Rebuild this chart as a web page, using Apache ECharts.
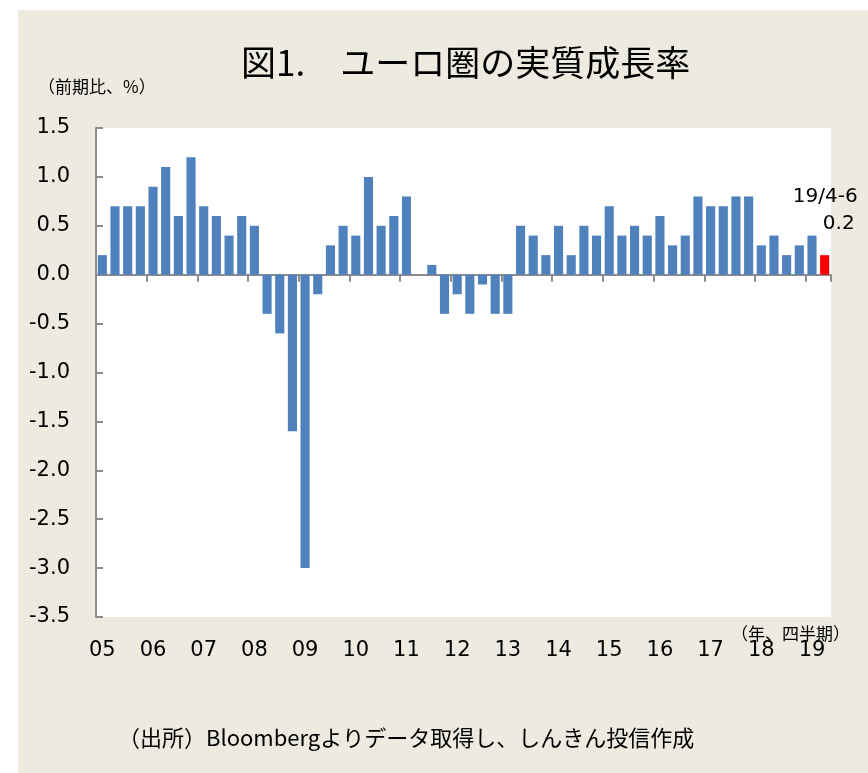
<!DOCTYPE html>
<html>
<head>
<meta charset="utf-8">
<script src="https://cdn.jsdelivr.net/npm/echarts@6/dist/echarts.min.js"></script>
<style>
  html, body { margin: 0; padding: 0; background: #fff; }
  #chart { position: absolute; left: 0; top: 0; width: 868px; height: 773px; }
  #panel { position: absolute; left: 18px; top: 10px; width: 850px; height: 763px; background: #edeae0; }
</style>
</head>
<body>
<div id="panel"></div>
<div id="chart"></div>
<script>
// 四半期 (05/1-3 〜 19/4-6)
var years = ["05", "06", "07", "08", "09", "10", "11", "12", "13", "14", "15", "16", "17", "18", "19"];
var growth = [
  0.2, 0.7, 0.7, 0.7,    // 05
  0.9, 1.1, 0.6, 1.2,    // 06
  0.7, 0.6, 0.4, 0.6,    // 07
  0.5, -0.4, -0.6, -1.6, // 08
  -3.0, -0.2, 0.3, 0.5,  // 09
  0.4, 1.0, 0.5, 0.6,    // 10
  0.8, 0.0, 0.1, -0.4,   // 11
  -0.2, -0.4, -0.1, -0.4,// 12
  -0.4, 0.5, 0.4, 0.2,   // 13
  0.5, 0.2, 0.5, 0.4,    // 14
  0.7, 0.4, 0.5, 0.4,    // 15
  0.6, 0.3, 0.4, 0.8,    // 16
  0.7, 0.7, 0.8, 0.8,    // 17
  0.3, 0.4, 0.2, 0.3,    // 18
  0.4, 0.2               // 19
];
var yTicks = { min: -3.5, max: 1.5, step: 0.5 };

var quarters = [];
growth.forEach(function (v, i) {
  quarters.push(years[Math.floor(i / 4)] + "/" + ((i % 4) + 1));
});

var lastIdx = growth.length - 1;
var barData = growth.map(function (v, i) {
  if (i === lastIdx) {
    return {
      value: v,
      itemStyle: { color: "#ff0000" },
      label: {
        show: true,
        position: "top",
        distance: 18,
        align: "right",
        offset: [33, 0],
        formatter: "{a|19/4-6}\n{b|0.2}",
        rich: {
          a: { fontFamily: "DejaVu Sans", fontSize: 20, color: "#000", align: "right", lineHeight: 27 },
          b: { fontFamily: "DejaVu Sans", fontSize: 20, color: "#000", align: "right", lineHeight: 27, padding: [0, 3, 0, 0] }
        }
      }
    };
  }
  return v;
});

var chart = echarts.init(document.getElementById("chart"));
var axisGray = "#8c8c8c";

var option = {
  animation: false,
  backgroundColor: "transparent",
  title: {
    text: "図1.　ユーロ圏の実質成長率",
    left: 236,
    top: 40,
    textStyle: { fontFamily: "Noto Sans CJK JP", fontSize: 35, fontWeight: "normal", color: "#000" }
  },
  grid: {
    left: 96, right: 37, top: 128, bottom: 156,
    show: true, backgroundColor: "#fff", borderWidth: 0
  },
  xAxis: [
    {
      type: "category",
      data: quarters,
      position: "bottom",
      axisLine: { onZero: true, lineStyle: { color: axisGray, width: 2 } },
      axisTick: { show: true, interval: 3, length: 7, lineStyle: { color: axisGray, width: 2 } },
      axisLabel: { show: false },
      splitLine: { show: false }
    },
    {
      type: "category",
      data: quarters,
      position: "bottom",
      axisLine: { show: false, onZero: false },
      axisTick: { show: false },
      axisLabel: {
        interval: 3,
        margin: 23,
        fontFamily: "DejaVu Sans",
        fontSize: 21,
        color: "#000",
        formatter: function (val) { return val.split("/")[0]; }
      },
      splitLine: { show: false }
    }
  ],
  yAxis: {
    type: "value",
    min: yTicks.min,
    max: yTicks.max,
    interval: yTicks.step,
    axisLine: { show: true, lineStyle: { color: axisGray, width: 2 } },
    axisTick: { show: true, inside: true, length: 7, lineStyle: { color: axisGray, width: 2 } },
    axisLabel: {
      margin: 26,
      fontFamily: "DejaVu Sans",
      fontSize: 21,
      color: "#000",
      formatter: function (v) { return v.toFixed(1); }
    },
    splitLine: { show: false }
  },
  series: [
    {
      type: "bar",
      xAxisIndex: 0,
      data: barData,
      barCategoryGap: "28%",
      itemStyle: { color: "#4f81bd" }
    }
  ],
  graphic: [
    {
      type: "text", left: 38, top: 78,
      style: { text: "（前期比、%）", font: "17px 'Noto Sans CJK JP'", fill: "#000" }
    },
    {
      type: "text", left: 731, top: 625,
      style: { text: "（年、四半期）", font: "17px 'Noto Sans CJK JP'", fill: "#000" }
    },
    {
      type: "text", left: 118, top: 727,
      style: { text: "（出所）Bloombergよりデータ取得し、しんきん投信作成", font: "22px 'Noto Sans CJK JP'", fill: "#000" }
    }
  ]
};

chart.setOption(option);
</script>
</body>
</html>
